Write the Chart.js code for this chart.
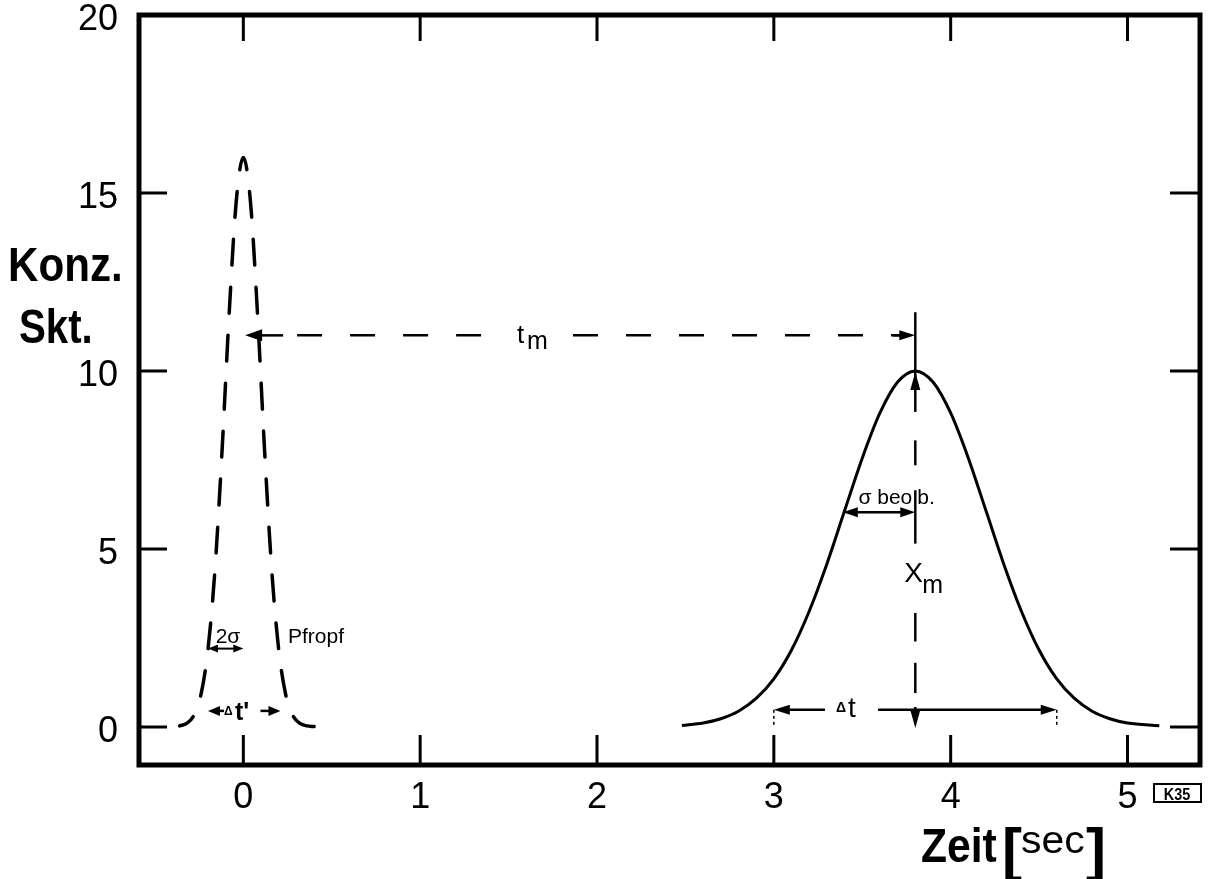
<!DOCTYPE html>
<html>
<head>
<meta charset="utf-8">
<title>Konzentration – Zeit</title>
<script src="https://cdn.jsdelivr.net/npm/chart.js@4.4.1/dist/chart.umd.min.js"></script>
<style>
  html, body { margin: 0; padding: 0; background: #fff; }
  #wrap { width: 1213px; height: 879px; }
</style>
</head>
<body>
<div id="wrap"><canvas id="chart" width="1213" height="879"></canvas></div>
<script>
// Pfropf: schmaler Aufgabepeak bei t = 0
const plugTimes = [-0.36, -0.32, -0.28, -0.24, -0.20, -0.16, -0.12, -0.08, -0.04, 0.00,
                   0.04, 0.08, 0.12, 0.16, 0.20, 0.24, 0.28, 0.32, 0.36, 0.40];
const plugConc  = [0.03, 0.10, 0.32, 0.90, 2.17, 4.45, 7.79, 11.62, 14.77, 16.0,
                   14.77, 11.62, 7.79, 4.45, 2.17, 0.90, 0.32, 0.10, 0.03, 0.01];

// beobachteter Peak am Ausgang
const peakTimes = [2.48, 2.6, 2.7, 2.8, 2.9, 3.0, 3.1, 3.2, 3.3, 3.4, 3.5, 3.6, 3.7, 3.8,
                   3.9, 4.0, 4.1, 4.2, 4.3, 4.4, 4.5, 4.6, 4.7, 4.8, 4.9, 5.0, 5.18];
const peakConc  = [0.04, 0.11, 0.23, 0.44, 0.80, 1.35, 2.16, 3.25, 4.58, 6.07, 7.55, 8.82, 9.69, 10.0,
                   9.69, 8.82, 7.55, 6.07, 4.58, 3.25, 2.16, 1.35, 0.80, 0.44, 0.23, 0.11, 0.03];

const timeTicks = [0, 1, 2, 3, 4, 5];
const concTicks = [0, 5, 10, 15, 20];

// Bemaßung (in Achseneinheiten)
const tPeak = 3.8, cPeak = 10;
const tmLevel = 11.0, tmStart = 0.01;
const sigmaLevel = 6.03, sigmaLeft = 3.39;
const dtLevel = 0.48, dtLeft = 3.0, dtRight = 4.6;
const dtPlugLevel = 0.45, dtPlugLeft = -0.2, dtPlugRight = 0.21;
const twoSigmaLevel = 2.2, twoSigmaLeft = -0.2, twoSigmaRight = 0.0;
// Stücke der senkrechten Linie bei tPeak
const markSegments = [[11.65, 8.85], [8.05, 7.35], [6.65, 5.15], [3.2, 2.4], [1.8, 0.95], [0.56, 0.2]];

const FONT = '"Liberation Sans", Arial, sans-serif';

function toPoints(xs, ys) {
  return xs.map((x, i) => ({ x: x, y: ys[i] }));
}

function arrowHead(ctx, x, y, dx, dy, len, half) {
  // Spitze bei (x, y), Richtung (dx, dy)
  const bx = x - dx * len, by = y - dy * len;
  ctx.beginPath();
  ctx.moveTo(x, y);
  ctx.lineTo(bx - dy * half, by + dx * half);
  ctx.lineTo(bx + dy * half, by - dx * half);
  ctx.closePath();
  ctx.fill();
}

function line(ctx, x1, y1, x2, y2) {
  ctx.beginPath();
  ctx.moveTo(x1, y1);
  ctx.lineTo(x2, y2);
  ctx.stroke();
}

function text(ctx, str, x, y, font, align, sx) {
  ctx.save();
  ctx.font = font;
  ctx.textAlign = align || 'left';
  ctx.textBaseline = 'alphabetic';
  ctx.translate(x, y);
  ctx.scale(sx || 1, 1);
  ctx.fillText(str, 0, 0);
  ctx.restore();
}

const frameAndNotes = {
  id: 'frameAndNotes',
  afterDatasetsDraw(chart) {
    const { ctx, chartArea: a, scales } = chart;
    const px = v => scales.x.getPixelForValue(v);
    const py = v => scales.y.getPixelForValue(v);
    ctx.save();
    ctx.strokeStyle = '#000';
    ctx.fillStyle = '#000';
    ctx.lineCap = 'butt';

    // Rahmen
    ctx.lineWidth = 5;
    ctx.strokeRect(a.left, a.top, a.right - a.left, a.bottom - a.top);

    // Teilstriche nach innen
    ctx.lineWidth = 3;
    ctx.beginPath();
    timeTicks.forEach(t => {
      const p = px(t);
      ctx.moveTo(p, a.bottom); ctx.lineTo(p, a.bottom - 30);
      ctx.moveTo(p, a.top); ctx.lineTo(p, a.top + 26);
    });
    concTicks.filter(c => c < 20).forEach(c => {
      const p = py(c);
      ctx.moveTo(a.left, p); ctx.lineTo(a.left + 28, p);
      ctx.moveTo(a.right, p); ctx.lineTo(a.right - 30, p);
    });
    ctx.stroke();

    const xm = px(tPeak);

    // t_m: Pfeil vom Pfropf bis zum Maximum
    const yTm = py(tmLevel);
    const x0 = px(tmStart);
    ctx.lineWidth = 2.5;
    arrowHead(ctx, x0, yTm, -1, 0, 17, 6);
    line(ctx, x0 + 10, yTm, x0 + 38, yTm);
    ctx.setLineDash([25, 28]);
    line(ctx, x0 + 52, yTm, 495, yTm);
    line(ctx, 573, yTm, xm - 16, yTm);
    ctx.setLineDash([]);
    line(ctx, xm - 22, yTm, xm - 10, yTm);
    arrowHead(ctx, xm, yTm, 1, 0, 16, 5);
    text(ctx, 't', 517, yTm + 8, '26px ' + FONT);
    text(ctx, 'm', 527, yTm + 14, '25px ' + FONT);

    // senkrechte Linie bei t_m (x_m)
    ctx.lineWidth = 2.5;
    markSegments.forEach(s => line(ctx, xm, py(s[0]), xm, py(s[1])));
    arrowHead(ctx, xm, py(cPeak) + 1, 0, -1, 18, 5);
    arrowHead(ctx, xm, py(0) + 1, 0, 1, 18, 5);
    text(ctx, 'X', xm - 11, py(4.07), '28px ' + FONT);
    text(ctx, 'm', xm + 7, py(4.07) + 11, '25px ' + FONT);

    // sigma beob.
    const ys = py(sigmaLevel);
    const xsL = px(sigmaLeft);
    ctx.lineWidth = 2.5;
    line(ctx, xsL + 8, ys, xm - 8, ys);
    arrowHead(ctx, xsL, ys, -1, 0, 15, 5);
    arrowHead(ctx, xm, ys, 1, 0, 15, 5);
    text(ctx, 'σ beo', xm - 3, ys - 8, '21px ' + FONT, 'right');
    text(ctx, 'b.', xm + 2, ys - 8, '21px ' + FONT, 'left');

    // Delta t
    const yd = py(dtLevel);
    const xdL = px(dtLeft), xdR = px(dtRight);
    ctx.lineWidth = 2.5;
    line(ctx, xdL + 8, yd, 825, yd);
    line(ctx, 878, yd, xdR - 8, yd);
    arrowHead(ctx, xdL, yd, -1, 0, 16, 5);
    arrowHead(ctx, xdR, yd, 1, 0, 16, 5);
    ctx.lineWidth = 1.5;
    ctx.setLineDash([3, 3]);
    line(ctx, xdL, yd, xdL, py(0) - 1);
    line(ctx, xdR, yd, xdR, py(0) - 1);
    ctx.setLineDash([]);
    text(ctx, 'Δ', 836, yd + 2, 'bold 14px ' + FONT);
    text(ctx, 't', 848, yd + 7, '28px ' + FONT);

    // Delta t' am Pfropf
    const yp = py(dtPlugLevel);
    const xpL = px(dtPlugLeft), xpR = px(dtPlugRight);
    ctx.lineWidth = 2.5;
    arrowHead(ctx, xpL, yp, -1, 0, 12, 5);
    line(ctx, xpL + 8, yp, xpL + 16, yp);
    arrowHead(ctx, xpR, yp, 1, 0, 12, 5);
    line(ctx, xpR - 20, yp, xpR - 8, yp);
    text(ctx, 'Δ', 224, yp + 4, 'bold 12px ' + FONT);
    text(ctx, "t'", 235, yp + 9, 'bold 25px ' + FONT);

    // 2 sigma
    const y2 = py(twoSigmaLevel);
    const x2L = px(twoSigmaLeft), x2R = px(twoSigmaRight);
    ctx.lineWidth = 2;
    line(ctx, x2L + 6, y2, x2R - 6, y2);
    arrowHead(ctx, x2L, y2, -1, 0, 10, 4);
    arrowHead(ctx, x2R, y2, 1, 0, 10, 4);
    text(ctx, '2σ', 228, y2 - 6, '21px ' + FONT, 'center');
    text(ctx, 'Pfropf', 288, y2 - 6, '21px ' + FONT);

    // Achsentitel
    text(ctx, 'Konz.', 8, 281, 'bold 49px ' + FONT, 'left', 0.86);
    text(ctx, 'Skt.', 19, 343, 'bold 49px ' + FONT, 'left', 0.82);
    text(ctx, 'Zeit', 921, 862, 'bold 49px ' + FONT, 'left', 0.87);
    text(ctx, '[', 1002, 870, 'bold 60px ' + FONT, 'left', 1.0);
    text(ctx, 'sec', 1021, 853, '39px ' + FONT, 'left', 1.05);
    text(ctx, ']', 1086, 870, 'bold 60px ' + FONT, 'left', 1.0);

    // Bildkennung
    ctx.lineWidth = 2;
    ctx.strokeRect(1154, 784, 47, 18);
    text(ctx, 'K35', 1177, 800, 'bold 17px ' + FONT, 'center', 0.85);

    ctx.restore();
  }
};

const ctx = document.getElementById('chart').getContext('2d');
const chart = new Chart(ctx, {
  type: 'scatter',
  data: {
    datasets: [
      {
        label: 'Pfropf',
        data: toPoints(plugTimes, plugConc),
        showLine: true,
        borderColor: '#000',
        borderWidth: 3.5,
        borderDash: [26, 22],
        borderDashOffset: 9,
        borderCapStyle: 'round',
        cubicInterpolationMode: 'monotone',
        pointRadius: 0
      },
      {
        label: 'beobachtet',
        data: toPoints(peakTimes, peakConc),
        showLine: true,
        borderColor: '#000',
        borderWidth: 3,
        cubicInterpolationMode: 'monotone',
        pointRadius: 0
      }
    ]
  },
  options: {
    responsive: false,
    animation: false,
    layout: { padding: { top: 15, right: 13, left: 0, bottom: 0 } },
    plugins: {
      legend: { display: false },
      tooltip: { enabled: false }
    },
    scales: {
      x: {
        type: 'linear',
        min: -0.59,
        max: 5.41,
        grid: { display: false, drawTicks: false },
        border: { display: false },
        afterBuildTicks: scale => { scale.ticks = timeTicks.map(v => ({ value: v })); },
        afterFit: scale => { scale.height = 114; scale.paddingLeft = 0; scale.paddingRight = 0; },
        ticks: {
          color: '#000',
          padding: 11,
          maxRotation: 0,
          font: { family: FONT, size: 36 }
        }
      },
      y: {
        type: 'linear',
        min: -1.07,
        max: 20,
        grid: { display: false, drawTicks: false },
        border: { display: false },
        afterBuildTicks: scale => { scale.ticks = concTicks.map(v => ({ value: v })); },
        afterFit: scale => { scale.width = 139; scale.paddingTop = 0; scale.paddingBottom = 0; },
        ticks: {
          color: '#000',
          padding: 21,
          labelOffset: 5,
          font: { family: FONT, size: 36 }
        }
      }
    }
  },
  plugins: [frameAndNotes]
});
</script>
</body>
</html>
